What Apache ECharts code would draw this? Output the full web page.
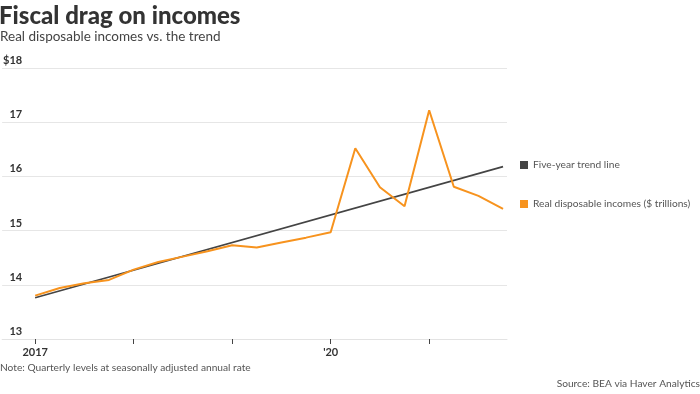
<!DOCTYPE html>
<html><head><meta charset="utf-8">
<script src="https://cdn.jsdelivr.net/npm/echarts@6/dist/echarts.min.js"></script>
<style>html,body{margin:0;padding:0;background:#fff}#c{width:700px;height:394px}</style>
</head><body><div id="c"></div>
<script>
// Quarter index: 0 = 2017 Q1 ... 19 = 2021 Q4
var quarters = [0,1,2,3,4,5,6,7,8,9,10,11,12,13,14,15,16,17,18,19];
var incomes = [13.80,13.94,14.03,14.09,14.28,14.42,14.52,14.62,14.73,14.69,14.78,14.87,14.97,16.52,15.80,15.45,17.22,15.81,15.64,15.40];
var trendQuarters = [0,19];
var trendValues = [13.76,16.18];
var yTicks = [13,14,15,16,17,18];
var xTickQuarters = [0,4,8,12,16];
var xLabelQuarters = [0,12];
var xLabelText = {0:'2017',12:"'20"};

var chart = echarts.init(document.getElementById('c'));
var font = 'Lato, "Open Sans", sans-serif';
chart.setOption({
  animation:false,
  title:[
    {text:'Fiscal drag on incomes',left:-1,top:4,padding:0,textStyle:{fontFamily:font,fontWeight:900,fontSize:24,color:'#333'}},
    {text:'Real disposable incomes vs. the trend',left:0,top:30,padding:0,textStyle:{fontFamily:font,fontWeight:'normal',fontSize:13.5,color:'#444'}},
    {text:'Note: Quarterly levels at seasonally adjusted annual rate',left:0,top:363,padding:0,textStyle:{fontFamily:font,fontWeight:'normal',fontSize:10.2,color:'#555'}},
    {text:'Source: BEA via Haver Analytics',right:0,top:379,padding:0,textStyle:{fontFamily:font,fontWeight:'normal',fontSize:10.2,color:'#555'}}
  ],
  legend:{
    orient:'vertical',left:515,top:155,itemGap:29,icon:'rect',itemWidth:8,itemHeight:8,
    textStyle:{fontFamily:font,fontSize:10.2,color:'#555'},
    data:[{name:'Five-year trend line',itemStyle:{color:'#444'}},{name:'Real disposable incomes ($ trillions)',itemStyle:{color:'#f7931e'}}]
  },
  grid:{left:0,right:193,top:68,bottom:55,containLabel:false},
  xAxis:{
    type:'value',min:-1.34,max:19.16,
    splitLine:{show:false},
    axisLine:{show:true,lineStyle:{color:'#e3e3e3',width:1}},
    axisTick:{show:true,customValues:xTickQuarters,length:5,lineStyle:{color:'#444'}},
    axisLabel:{customValues:xLabelQuarters,formatter:function(v){return xLabelText[v]||'';},
      fontFamily:font,fontWeight:'bold',fontSize:11,color:'#333',margin:8}
  },
  yAxis:{
    type:'value',min:13,max:18,interval:1,
    axisLine:{show:false},axisTick:{show:false},
    splitLine:{lineStyle:{color:'#e6e6e6',width:1}},
    axisLabel:{inside:true,align:'right',margin:20,verticalAlign:'bottom',padding:[0,0,2,0],
      fontFamily:font,fontWeight:'bold',fontSize:11,color:'#333',
      formatter:function(v){return v===18?'$18':String(v);}}
  },
  series:[
    {name:'Five-year trend line',type:'line',showSymbol:false,symbol:'none',
     data:trendQuarters.map(function(q,i){return [q,trendValues[i]];}),
     lineStyle:{color:'#444',width:1.6},itemStyle:{color:'#444'},z:2},
    {name:'Real disposable incomes ($ trillions)',type:'line',showSymbol:false,symbol:'none',
     data:quarters.map(function(q,i){return [q,incomes[i]];}),
     lineStyle:{color:'#f7931e',width:2},itemStyle:{color:'#f7931e'},z:3}
  ]
});
</script></body></html>
